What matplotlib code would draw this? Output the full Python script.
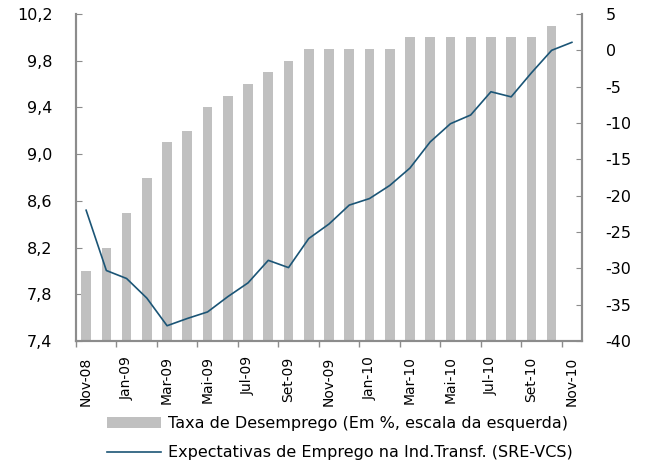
import numpy as np
import matplotlib
matplotlib.use('Agg')
import matplotlib.pyplot as plt
from matplotlib.ticker import FuncFormatter

plt.rcParams['font.family'] = ['DejaVu Sans']
plt.rcParams['axes.unicode_minus'] = False

# dados
meses = ['Nov-08', 'Dez-08', 'Jan-09', 'Fev-09', 'Mar-09', 'Abr-09', 'Mai-09', 'Jun-09',
         'Jul-09', 'Ago-09', 'Set-09', 'Out-09', 'Nov-09', 'Dez-09', 'Jan-10', 'Fev-10',
         'Mar-10', 'Abr-10', 'Mai-10', 'Jun-10', 'Jul-10', 'Ago-10', 'Set-10', 'Out-10',
         'Nov-10']
desemprego = [8.0, 8.2, 8.5, 8.8, 9.1, 9.2, 9.4, 9.5, 9.6, 9.7, 9.8, 9.9, 9.9,
              9.9, 9.9, 9.9, 10.0, 10.0, 10.0, 10.0, 10.0, 10.0, 10.0, 10.1, np.nan]
expectativas = [-22.0, -30.3, -31.4, -34.1, -37.9, -36.9, -36.0, -33.9, -32.0, -28.9,
                -29.9, -25.9, -23.9, -21.3, -20.4, -18.6, -16.2, -12.6, -10.1, -8.9,
                -5.7, -6.4, -3.1, 0.0, 1.1]

cor_barra = '#c0c0c0'
cor_linha = '#1b5576'
cor_eixo = '#8c8c8c'
fs = 11.5

fig = plt.figure(figsize=(6.51, 4.65), dpi=100)
ax = fig.add_axes([76 / 651, 1 - 341 / 465, (582 - 76) / 651, (341 - 14) / 465])
x = np.arange(len(meses))

barras = ax.bar(x, desemprego, width=0.48, color=cor_barra, zorder=2,
                label='Taxa de Desemprego (Em %, escala da esquerda)')
ax.set_xlim(-0.5, len(meses) - 0.5)
ax.set_ylim(7.4, 10.2)
ax.set_yticks(np.arange(7.4, 10.21, 0.4))
ax.yaxis.set_major_formatter(FuncFormatter(lambda v, p: f'{v:.1f}'.replace('.', ',')))

ax2 = ax.twinx()
linha, = ax2.plot(x, expectativas, color=cor_linha, lw=1.2,
                  label='Expectativas de Emprego na Ind.Transf. (SRE-VCS)')
ax2.set_ylim(-40, 5)
ax2.set_yticks(np.arange(-40, 6, 5))

# eixo x: rótulos a cada 2 meses, marcas nas fronteiras
ax.set_xticks(x[::2])
ax.set_xticklabels(meses[::2], rotation=90)
ax.set_xticks(np.arange(-0.5, len(meses) - 1, 2), minor=True)
ax.tick_params(axis='x', which='major', length=0, pad=11, labelsize=10)
ax.tick_params(axis='x', which='minor', direction='out', length=4, color=cor_eixo, width=1)

ax.tick_params(axis='y', direction='in', length=4, color=cor_eixo, pad=17, labelsize=fs)
ax2.tick_params(axis='y', direction='in', length=4, color=cor_eixo, pad=17, labelsize=fs)

for a in (ax, ax2):
    a.spines['top'].set_visible(False)
    for s in ('left', 'right', 'bottom'):
        a.spines[s].set_color(cor_eixo)
        a.spines[s].set_linewidth(1.5)

fig.legend(handles=[barras, linha], loc='upper left',
           bbox_to_anchor=(107 / 651, 1 - 416 / 465), frameon=False,
           borderpad=0, borderaxespad=0, handlelength=3.4, handletextpad=0.4,
           labelspacing=0.9, fontsize=fs)

fig.savefig('out.png', dpi=100)
